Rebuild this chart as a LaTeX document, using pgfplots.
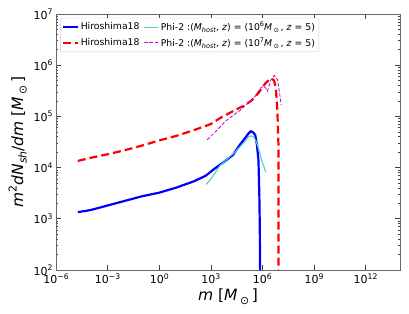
\documentclass[border=0pt]{standalone}
\usepackage{fontspec}
\setmainfont{DejaVu Sans}
\usepackage{pgfplots}
\pgfplotsset{compat=1.18}
\definecolor{myblue}{RGB}{0,0,255}
\definecolor{myred}{RGB}{255,0,0}
\definecolor{mycyan}{RGB}{72,209,204}
\definecolor{mymag}{RGB}{204,0,204}
\newcommand{\sps}[1]{\raisebox{0.42em}{\scalebox{0.7}{#1}}}
\newcommand{\sbs}[1]{\raisebox{-0.22em}{\scalebox{0.7}{#1}}}
\newcommand{\msun}{\textit{M}\,\sbs{⊙}\,}
\newcommand{\tl}[1]{10\sps{#1}}
\begin{document}
\begin{tikzpicture}
\begin{axis}[
  scale only axis, width=344pt, height=256pt,
  xmode=log, ymode=log,
  xmin=1e-6, xmax=1e14, ymin=1e2, ymax=1e7,
  xtick={1e-6,1e-3,1,1e3,1e6,1e9,1e12},
  xticklabels={\tl{−6},\tl{−3},\tl{0},\tl{3},\tl{6},\tl{9},\tl{12}},
  ytick={1e2,1e3,1e4,1e5,1e6,1e7},
  yticklabels={\tl{2},\tl{3},\tl{4},\tl{5},\tl{6},\tl{7}},
  xminorticks=false,
  tick align=inside, xtick pos=both, ytick pos=both,
  major tick length=5pt, minor tick length=2.5pt,
  axis line style={black!60},
  every tick/.style={black!75, line width=0.6pt},
  tick label style={font=\fontsize{11}{12}\selectfont},
  xlabel={\textit{m} [\msun]},
  ylabel={\textit{m}\sps{2}\textit{dN}\sbs{\textit{sh}}/\textit{dm} [\msun]},
  label style={font=\fontsize{15.5}{17}\selectfont},
  xlabel style={yshift=2pt},
  legend columns=2,
  legend cell align=left,
  legend style={at={(0.012,0.985)}, anchor=north west, draw=black!20, rounded corners=2pt,
    font=\fontsize{9.3}{11}\selectfont, inner sep=2pt, row sep=1.5pt,
    /tikz/every even column/.append style={column sep=2pt}},
  legend image code/.code={\draw[#1] (0cm,0cm) -- (0.5cm,0cm);},
]
\addplot[myblue, line width=2.2pt] coordinates {
(1.862e-5,1349) (1e-4,1479) (1e-3,1820) (0.01,2239) (0.1,2754) (1,3236) (10,4074) (100,5370)
(501,6918) (1995,10000) (6310,13183) (19953,17783) (50119,28184) (1e5,38019) (158489,46774)
(213796,51286) (281838,48978) (380189,43652) (478630,28184) (588844,14125) (660693,3162)
(707946,631) (741310,31.6)};
\addlegendentry{Hiroshima18}
\addplot[mycyan, line width=1.1pt] coordinates {
(550,4677) (1000,6026) (1995,8318) (3548,11220) (1e4,15136) (25119,19953) (51286,25704)
(1e5,33113) (158489,39811) (213796,41687) (316228,39811) (446684,31623) (588844,23988)
(891251,14125) (1584893,8128)};
\addlegendentry{Phi-2 :(\textit{M}\sbs{\textit{host}}, \textit{z}) = (10\sps{6}\msun, \textit{z} = 5)}
\addplot[myred, line width=2.2pt, dash pattern=on 8pt off 4pt] coordinates {
(1.862e-5,13490) (1e-4,15488) (1e-3,18197) (0.01,21878) (0.1,26915) (1,33884) (10,41687)
(100,53703) (1000,70795) (3548,93325) (1e4,112202) (31623,138038) (1e5,165959)
(251189,208930) (630957,295121) (1445440,436516) (2511886,524807) (3548134,549541)
(4786301,501187) (6025596,354813) (7413102,131826) (8511380,30200) (8709636,31.6)};
\addlegendentry{Hiroshima18}
\addplot[mymag, line width=0.8pt, dash pattern=on 3.5pt off 1.8pt] coordinates {
(602.6,34674) (2291,53703) (5623,74131) (8710,85114) (51286,131826) (194984,199526)
(398107,251189) (741310,354813) (1148154,389045) (1513561,363078) (1949845,309030)
(3090295,512861) (5011872,630957) (7762471,512861) (1e7,281838) (12302688,165959)};
\addlegendentry{Phi-2 :(\textit{M}\sbs{\textit{host}}, \textit{z}) = (10\sps{7}\msun, \textit{z} = 5)}
\end{axis}
\pgfresetboundingbox
\useasboundingbox (-56pt,-43pt) rectangle (353pt,270pt);
\end{tikzpicture}
\end{document}
